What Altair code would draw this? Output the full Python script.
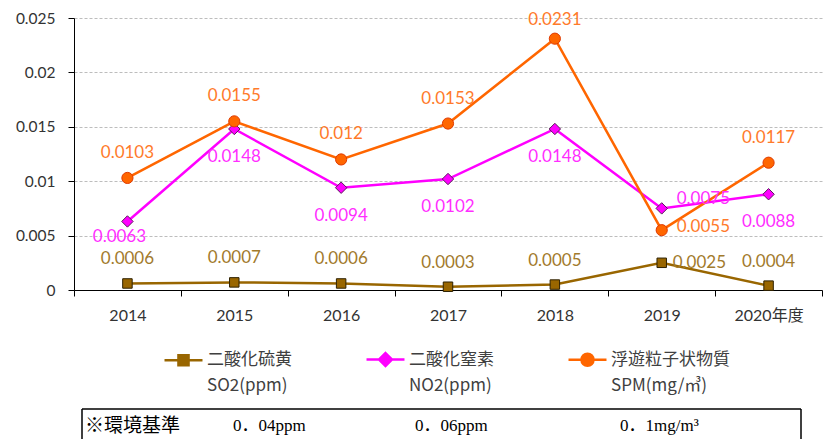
import altair as alt
import pandas as pd

# ---- data ----
years = ["2014", "2015", "2016", "2017", "2018", "2019", "2020年度"]
so2 = [0.0006, 0.0007, 0.0006, 0.0003, 0.0005, 0.0025, 0.0004]
no2 = [0.0063, 0.0148, 0.0094, 0.0102, 0.0148, 0.0075, 0.0088]
spm = [0.0103, 0.0155, 0.0120, 0.0153, 0.0231, 0.0055, 0.0117]
series_names = ["二酸化硫黄", "二酸化窒素", "浮遊粒子状物質"]
series_units = ["SO2(ppm)", "NO2(ppm)", "SPM(mg/㎥)"]
y_ticks = [0, 0.005, 0.01, 0.015, 0.02, 0.025]
standard_title = "※環境基準"
standards = ["0．04ppm", "0．06ppm", "0．1mg/m³"]

rows = []
for name, vals in zip(series_names, [so2, no2, spm]):
    for yr, v in zip(years, vals):
        rows.append({"series": name, "year": yr, "value": v})
df = pd.DataFrame(rows)

# ---- styles ----
line_col = {"二酸化硫黄": "#996600", "二酸化窒素": "#FF00FF", "浮遊粒子状物質": "#FF6600"}
edge_col = {"二酸化硫黄": "#2E2100", "二酸化窒素": "#5A1E5A", "浮遊粒子状物質": "#E03A00"}
lab_col = {"二酸化硫黄": "#A27A2C", "二酸化窒素": "#FF2EFF", "浮遊粒子状物質": "#FF7A2A"}
shape_of = {"二酸化硫黄": "square", "二酸化窒素": "diamond", "浮遊粒子状物質": "circle"}
size_of = {"二酸化硫黄": 90, "二酸化窒素": 130, "浮遊粒子状物質": 125}

NUM_FONT = "Lato, Noto Sans CJK JP"

x_enc = alt.X(
    "year:N", sort=years,
    scale=alt.Scale(type="band", paddingInner=0, paddingOuter=0),
    axis=alt.Axis(title=None, labelAngle=0, domainColor="black", tickColor="black",
                  tickSize=6, tickBand="extent", labelPadding=11, labelFont=NUM_FONT,
                  labelFontSize=16, labelColor="#333333", grid=False),
)
y_enc = alt.Y(
    "value:Q",
    scale=alt.Scale(domain=[0, 0.025], nice=False, zero=True),
    axis=alt.Axis(title=None, values=y_ticks, format="~g", grid=True, gridDash=[3, 2],
                  gridColor="#BDBDBD", domainColor="black", tickColor="black",
                  tickSize=6, labelPadding=13, labelFont=NUM_FONT, labelFontSize=15.5,
                  labelColor="#333333"),
)

base = alt.Chart(df).encode(x=x_enc, y=y_enc)

layers = []
for name in series_names:
    s = base.transform_filter(alt.datum.series == name)
    layers.append(s.mark_line(color=line_col[name], strokeWidth=2.5))
    layers.append(s.mark_point(shape=shape_of[name], filled=True, fill=line_col[name],
                               stroke=edge_col[name], strokeWidth=1, size=size_of[name],
                               opacity=1))


def labels(name, cond, **kw):
    return base.transform_filter(alt.datum.series == name).transform_filter(cond).mark_text(
        font=NUM_FONT, fontSize=17, color=lab_col[name], baseline="middle", **kw
    ).encode(text=alt.Text("value:Q", format="~g"))


SO2, NO2, SPM = series_names
layers += [
    labels(SO2, alt.datum.year != "2019", dy=-24),
    labels(SO2, alt.datum.year == "2019", align="left", dx=11, dy=0),
    labels(NO2, "datum.year != '2019' && datum.year != '2014'", dy=28),
    labels(NO2, alt.datum.year == "2014", dx=-8, dy=16),
    labels(NO2, alt.datum.year == "2019", align="left", dx=15, dy=-9),
    labels(SPM, "datum.year != '2019' && datum.year != '2018'", dy=-25),
    labels(SPM, alt.datum.year == "2018", dy=-19),
    labels(SPM, alt.datum.year == "2019", align="left", dx=15, dy=-3),
]

# ---- legend (native legend, two rows: names / units) ----
# symbol slot is 24px (unit = 12px); the line reaches 19px each side of centre
legend_domain = series_names + series_units
sq = "M-1.583,0H1.583M-0.42,-0.42H0.42V0.42H-0.42Z"
dia = "M-1.583,0H1.583M0,-0.54L0.54,0L0,0.54L-0.54,0Z"
circ = "M-1.583,0H1.583M-0.5,0A0.5,0.5 0 1,0 0.5,0A0.5,0.5 0 1,0 -0.5,0Z"
blank = "M0,0"
shape_range = [sq, dia, circ, blank, blank, blank]
col_range = [line_col[n] for n in series_names] * 2

leg = alt.Legend(orient="none", legendX=96, legendY=328, direction="horizontal",
                 columns=3, title=None, symbolSize=576, symbolStrokeWidth=2.5,
                 labelFont="Noto Sans CJK JP", labelFontSize=17, labelColor="#404040",
                 labelOffset=10, columnPadding=69, rowPadding=1, padding=0,
                 labelLimit=400)

legend_layer = alt.Chart(df).transform_filter("false").mark_point(filled=True, opacity=1).encode(
    x=x_enc, y=y_enc,
    fill=alt.Fill("series:N", scale=alt.Scale(domain=legend_domain, range=col_range), legend=leg),
    stroke=alt.Stroke("series:N", scale=alt.Scale(domain=legend_domain, range=col_range), legend=leg),
    shape=alt.Shape("series:N", scale=alt.Scale(domain=legend_domain, range=shape_range), legend=leg),
)
layers.append(legend_layer)

# ---- standards box below ----
one = alt.Chart(pd.DataFrame({"k": [0]}))
layers += [
    one.mark_rule(color="black", strokeWidth=1.5).encode(x=alt.value(8), x2=alt.value(727), y=alt.value(391)),
    one.mark_rule(color="black", strokeWidth=1.5).encode(x=alt.value(8), y=alt.value(391), y2=alt.value(450)),
    one.mark_rule(color="black", strokeWidth=1.5).encode(x=alt.value(727), y=alt.value(391), y2=alt.value(450)),
]
box_font = "Liberation Serif, Noto Sans CJK JP"
box_x = [159, 341, 546]
layers.append(one.mark_text(align="left", baseline="middle", font="Noto Sans CJK JP",
                            fontSize=19, color="black", text=standard_title)
              .encode(x=alt.value(11), y=alt.value(408)))
for txt, bx in zip(standards, box_x):
    layers.append(one.mark_text(align="left", baseline="middle", font=box_font,
                                fontSize=17, color="black", text=txt)
                  .encode(x=alt.value(bx), y=alt.value(408)))

chart = alt.layer(*layers).properties(
    width=748, height=272,
    padding={"left": 66, "top": 10, "right": 2, "bottom": 149},
    autosize=alt.AutoSizeParams(type="none"),
).configure_view(stroke=None)

chart.save("out.html", embed_options={"renderer": "svg", "actions": False})
